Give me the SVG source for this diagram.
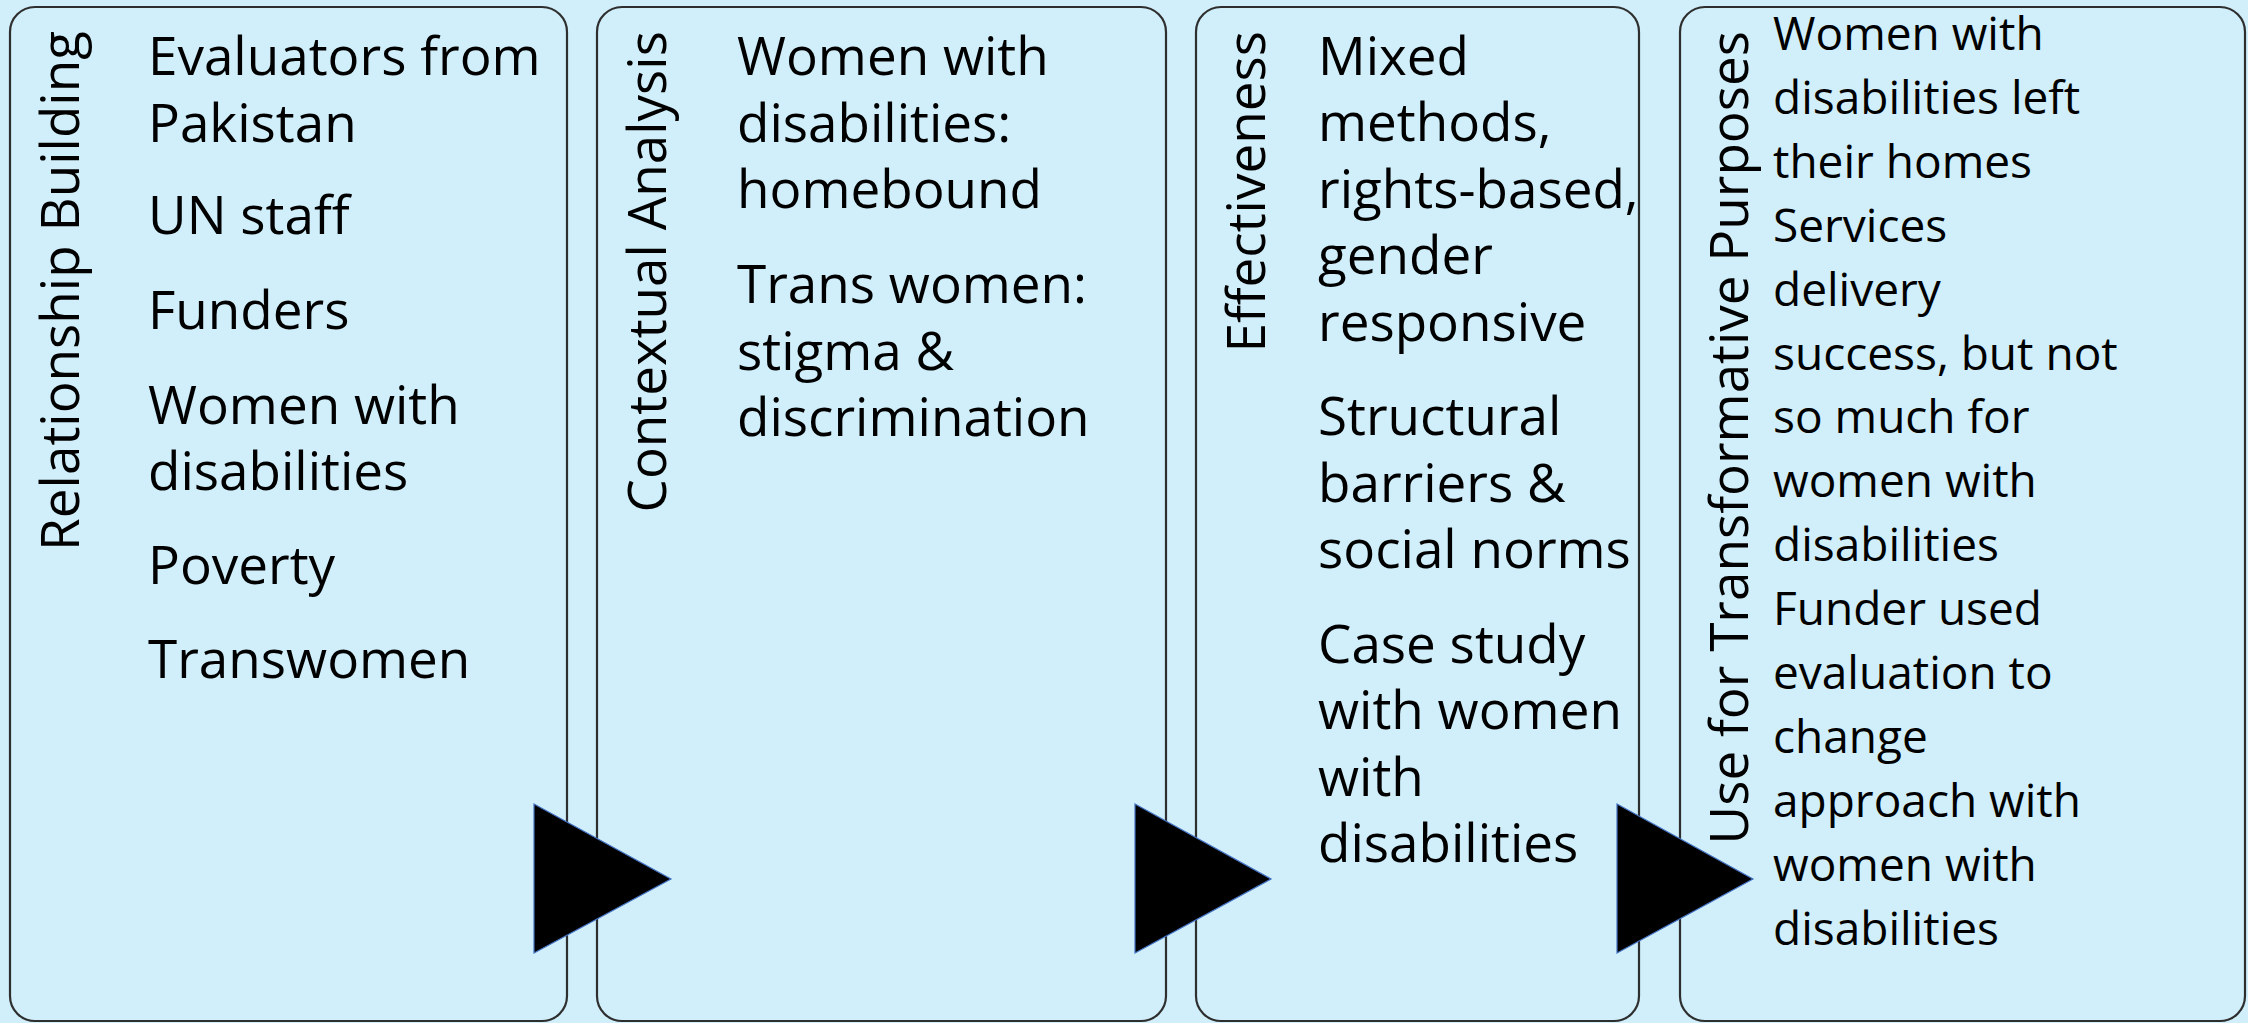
<svg xmlns="http://www.w3.org/2000/svg" width="2248" height="1023" viewBox="0 0 2248 1023">
<style>
.bg{fill:#D0EFFA}
.box{fill:#D0EFFA;stroke:#2E2E2E;stroke-width:2.2}
.t{font-family:"Open Sans","Noto Sans","Liberation Sans",sans-serif;fill:#000}
.body{font-size:53px}
.small{font-size:46px}
.title{font-size:53px;text-anchor:end}
.arrow{fill:#000;stroke:#4472C4;stroke-width:1.2;stroke-linejoin:miter}
</style>
<rect class="bg" x="0" y="0" width="2248" height="1023"/>
<g id="node-relationship">
<rect class="box" x="10" y="7" width="557" height="1014" rx="25" ry="25"/>
<text class="t title" transform="translate(79,31) rotate(-90)">Relationship Building</text>
<text class="t body">
<tspan x="148" y="75">Evaluators from</tspan>
<tspan x="148" y="142">Pakistan</tspan>
<tspan x="148" y="234">UN staff</tspan>
<tspan x="148" y="329">Funders</tspan>
<tspan x="148" y="424">Women with</tspan>
<tspan x="148" y="490">disabilities</tspan>
<tspan x="148" y="584">Poverty</tspan>
<tspan x="148" y="678">Transwomen</tspan>
</text>
</g>
<g id="node-contextual">
<rect class="box" x="597" y="7" width="569" height="1014" rx="25" ry="25"/>
<text class="t title" transform="translate(666,31) rotate(-90)">Contextual Analysis</text>
<text class="t body">
<tspan x="737" y="75">Women with</tspan>
<tspan x="737" y="142">disabilities:</tspan>
<tspan x="737" y="208">homebound</tspan>
<tspan x="737" y="303">Trans women:</tspan>
<tspan x="737" y="370">stigma &amp;</tspan>
<tspan x="737" y="436">discrimination</tspan>
</text>
</g>
<g id="node-effectiveness">
<rect class="box" x="1196" y="7" width="443" height="1014" rx="25" ry="25"/>
<text class="t title" transform="translate(1265,31) rotate(-90)">Effectiveness</text>
<text class="t body">
<tspan x="1318" y="75">Mixed</tspan>
<tspan x="1318" y="141">methods,</tspan>
<tspan x="1318" y="208">rights-based,</tspan>
<tspan x="1318" y="274">gender</tspan>
<tspan x="1318" y="341">responsive</tspan>
<tspan x="1318" y="435">Structural</tspan>
<tspan x="1318" y="502">barriers &amp;</tspan>
<tspan x="1318" y="568">social norms</tspan>
<tspan x="1318" y="663">Case study</tspan>
<tspan x="1318" y="729">with women</tspan>
<tspan x="1318" y="796">with</tspan>
<tspan x="1318" y="862">disabilities</tspan>
</text>
</g>
<g id="node-use">
<rect class="box" x="1680" y="7" width="565" height="1014" rx="25" ry="25"/>
<text class="t title" transform="translate(1748,31) rotate(-90)">Use for Transformative Purposes</text>
<text class="t small">
<tspan x="1773" y="50">Women with</tspan>
<tspan x="1773" y="114">disabilities left</tspan>
<tspan x="1773" y="178">their homes</tspan>
<tspan x="1773" y="242">Services</tspan>
<tspan x="1773" y="306">delivery</tspan>
<tspan x="1773" y="370">success, but not</tspan>
<tspan x="1773" y="433">so much for</tspan>
<tspan x="1773" y="497">women with</tspan>
<tspan x="1773" y="561">disabilities</tspan>
<tspan x="1773" y="625">Funder used</tspan>
<tspan x="1773" y="689">evaluation to</tspan>
<tspan x="1773" y="753">change</tspan>
<tspan x="1773" y="817">approach with</tspan>
<tspan x="1773" y="881">women with</tspan>
<tspan x="1773" y="945">disabilities</tspan>
</text>
</g>
<g id="connectors">
<polygon class="arrow" points="534,804 671,879 534,953"/>
<polygon class="arrow" points="1135,804 1271,879 1135,953"/>
<polygon class="arrow" points="1617,804 1753,879 1617,953"/>
</g>
</svg>
